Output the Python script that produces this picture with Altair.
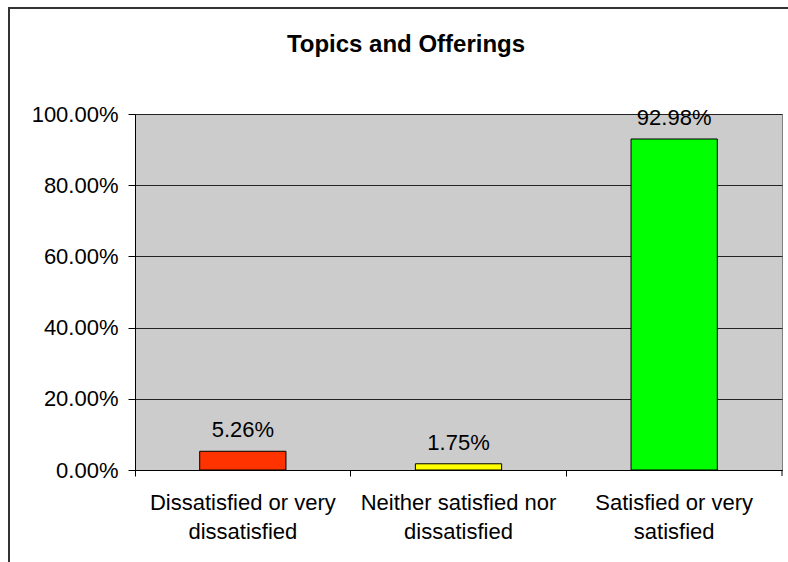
import altair as alt
import pandas as pd

categories = ["Dissatisfied or very dissatisfied",
              "Neither satisfied nor dissatisfied",
              "Satisfied or very satisfied"]
label_lines = [["Dissatisfied or very", "dissatisfied"],
               ["Neither satisfied nor", "dissatisfied"],
               ["Satisfied or very", "satisfied"]]
values = [0.0526, 0.0175, 0.9298]
colors = ["#FF3300", "#FFFF00", "#00FF00"]
y_ticks = [0, 0.2, 0.4, 0.6, 0.8, 1.0]
title_text = "Topics and Offerings"

df = pd.DataFrame({"cat": categories, "val": values})
title_df = pd.DataFrame({"t": [title_text]})

FONT = "Liberation Sans"

label_expr = " : ".join(
    [f"datum.label == '{c}' ? {l!r}" for c, l in zip(categories, label_lines)]
) + " : datum.label"

x_enc = alt.X("cat:N", sort=categories,
              scale=alt.Scale(paddingInner=0, paddingOuter=0),
              axis=alt.Axis(title=None, labelAngle=0, labelExpr=label_expr,
                            labelFont=FONT, labelFontSize=22, labelColor="#000000",
                            labelBaseline="alphabetic", labelLineHeight=29,
                            labelPadding=33, tickSize=6, tickColor="#000000",
                            domainColor="#000000", bandPosition=0,
                            labelLimit=400))
y_enc = alt.Y("val:Q", scale=alt.Scale(domain=[0, 1]),
              axis=alt.Axis(title=None, values=y_ticks, format=".2%",
                            labelFont=FONT, labelFontSize=22, labelColor="#000000",
                            tickSize=7, tickColor="#000000", labelPadding=10,
                            domainColor="#000000", gridColor="#222222",
                            gridOpacity=1, grid=True))

bars = alt.Chart(df).mark_bar(stroke="#000000", strokeWidth=1,
                              width=alt.RelativeBandSize(0.4)).encode(
    x=x_enc, y=y_enc,
    color=alt.Color("cat:N", sort=categories,
                    scale=alt.Scale(domain=categories, range=colors), legend=None)
)

texts = alt.Chart(df).mark_text(font=FONT, fontSize=22, color="#000000",
                                baseline="alphabetic", dy=-14).encode(
    x=alt.X("cat:N", sort=categories),
    y="val:Q",
    text=alt.Text("val:Q", format=".2%")
)

title = alt.Chart(title_df).mark_text(font=FONT, fontSize=24, fontWeight="bold",
                                      color="#000000", baseline="alphabetic",
                                      align="center").encode(
    x=alt.value(271), y=alt.value(-62), text="t:N"
)

right_tick = alt.Chart(title_df).mark_rule(color="#000000", strokeWidth=1).encode(
    x=alt.value(647), y=alt.value(356), y2=alt.value(362)
)

frame_left = alt.Chart(title_df).mark_rule(color="#333333", strokeWidth=2).encode(
    x=alt.value(-126), y=alt.value(-107), y2=alt.value(600)
)
frame_top = alt.Chart(title_df).mark_rule(color="#333333", strokeWidth=2).encode(
    y=alt.value(-106), x=alt.value(-127), x2=alt.value(700)
)

chart = alt.layer(bars, texts, title, right_tick, frame_left, frame_top).properties(
    width=647, height=356,
    background="#FFFFFF",
    autosize=alt.AutoSizeParams(type="none"),
    padding={"left": 135, "top": 114, "right": 6, "bottom": 92},
).configure_view(fill="#CCCCCC", stroke="#808080", strokeWidth=1)

chart.save("out.html", embed_options={"renderer": "svg", "actions": False})
